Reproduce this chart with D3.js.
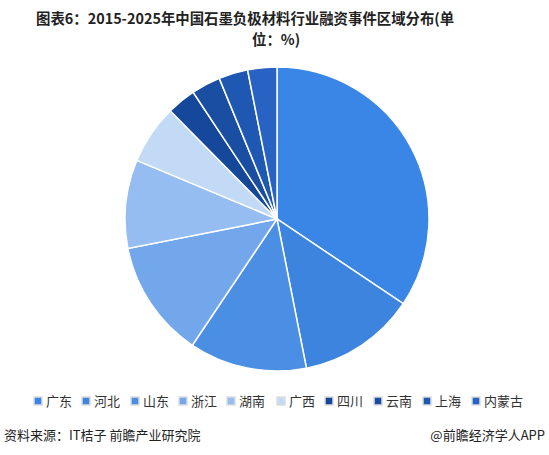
<!DOCTYPE html>
<html><head><meta charset="utf-8">
<script src="https://cdn.jsdelivr.net/npm/d3@7"></script>
<style>body{margin:0;background:#fff;font-family:"Noto Sans CJK SC",sans-serif}</style>
</head><body><svg id="c" width="549" height="455"></svg>
<script>
const categories=["广东","河北","山东","浙江","湖南","广西","四川","云南","上海","内蒙古"];
const values=[34.4,12.5,12.5,12.5,9.4,6.3,3.1,3.1,3.1,3.1];
const colors=["#3a86e6","#3d84df","#4b8fe4","#73a7ec","#95bdf1","#c3daf7","#15479a","#1a4ea3","#1f58b2","#2862c2"];
const svg=d3.select("#c");
svg.append("text").attr("x",36).attr("y",24).attr("font-size",14.4).attr("font-weight","bold").attr("fill","#222")
 .text("图表6：2015-2025年中国石墨负极材料行业融资事件区域分布(单");
svg.append("text").attr("x",252).attr("y",45).attr("font-size",14.4).attr("font-weight","bold").attr("fill","#222").text("位：%)");
const pie=d3.pie().sort(null).value(d=>d)(values);
const arc=d3.arc().innerRadius(0).outerRadius(152);
svg.append("g").attr("transform","translate(277,219)").selectAll("path").data(pie).join("path")
 .attr("d",arc).attr("fill",(d,i)=>colors[i]).attr("stroke","#fff").attr("stroke-width",1.5);
const xs=[34,82,131,179,227,277,325,374,423,472];
const lg=svg.append("g").selectAll("g").data(categories).join("g").attr("transform",(d,i)=>`translate(${xs[i]},401)`);
lg.append("rect").attr("x",0).attr("y",-4).attr("width",8).attr("height",8).attr("fill",(d,i)=>colors[i]).attr("stroke","#ddd").attr("stroke-width",1.5);
lg.append("text").attr("x",12).attr("y",5).attr("font-size",13).attr("fill","#333").text(d=>d);
svg.append("text").attr("x",4).attr("y",440).attr("font-size",13).attr("fill","#222").text("资料来源：IT桔子 前瞻产业研究院");
svg.append("text").attr("x",545).attr("y",440).attr("text-anchor","end").attr("font-size",13).attr("fill","#222").text("@前瞻经济学人APP");
</script></body></html>
